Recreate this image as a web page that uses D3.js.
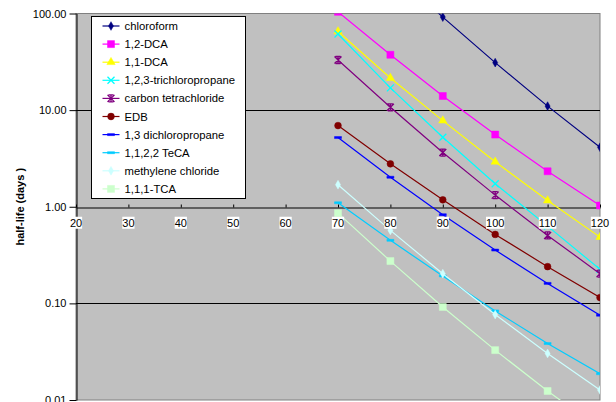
<!DOCTYPE html>
<html>
<head>
<meta charset="utf-8">
<script src="https://cdn.jsdelivr.net/npm/d3@7/dist/d3.min.js"></script>
<style>
  body { margin: 0; background: #fff; }
  text { font-family: Arial, "Liberation Sans", sans-serif; }
</style>
</head>
<body>
<div id="plot-container"></div>
<script>
// data (x = temperature, y = half-life in days)
var temps = [70, 80, 90, 100, 110, 120];
var names = ["chloroform", "1,2-DCA", "1,1-DCA", "1,2,3-trichloropropane", "carbon tetrachloride",
             "EDB", "1,3 dichloropropane", "1,1,2,2 TeCA", "methylene chloride", "1,1,1-TCA"];
var chloroform = [925, 285, 91.8, 31.0, 11.0, 4.13];
var dca12      = [104, 37.4, 14.0, 5.58, 2.33, 1.03];
var dca11      = [65.2, 21.5, 7.79, 2.92, 1.16, 0.485];
var tcp123     = [61.3, 17.0, 5.24, 1.73, 0.63, 0.225];
var carbonTet  = [33.0, 10.7, 3.64, 1.32, 0.505, 0.203];
var edb        = [6.92, 2.78, 1.18, 0.517, 0.240, 0.115];
var dcp13      = [5.2, 2.02, 0.827, 0.356, 0.161, 0.0754];
var teca1122   = [1.10, 0.449, 0.192, 0.0835, 0.0384, 0.0187];
var methylene  = [1.69, 0.569, 0.203, 0.0766, 0.0303, 0.0127];
var tca111     = [0.859, 0.274, 0.0918, 0.0328, 0.0124, 0.005];
var allSeries = [chloroform, dca12, dca11, tcp123, carbonTet, edb, dcp13, teca1122, methylene, tca111];

var xTicks = [20, 30, 40, 50, 60, 70, 80, 90, 100, 110, 120];
var yTicks = [0.01, 0.1, 1, 10, 100];

// styles
var colors  = ["#000080", "#ff00ff", "#ffff00", "#00ffff", "#800080", "#800000", "#0000ff", "#00ccff", "#ccffff", "#ccffcc"];
var markers = ["diamond", "square", "triangle", "x", "star", "circle", "dash", "dash", "diamond", "square"];

var width = 616, height = 402;
var plotLeft = 76, plotRight = 600, plotTop = 13.5, plotBottom = 400;

var xScale = d3.scaleLinear().domain([20, 120]).range([plotLeft, plotRight]);
var yScale = d3.scaleLog().domain([0.01, 100]).range([plotBottom, plotTop]);

var svg = d3.select("#plot-container")
            .append("svg")
            .attr("width", width)
            .attr("height", height);

// plot area
svg.append("rect")
   .attr("x", plotLeft).attr("y", plotTop)
   .attr("width", plotRight - plotLeft).attr("height", plotBottom - plotTop)
   .attr("fill", "#c0c0c0")
   .attr("stroke", "#808080")
   .attr("stroke-width", 1);

svg.append("clipPath").attr("id", "plotclip")
   .append("rect")
   .attr("x", plotLeft).attr("y", plotTop)
   .attr("width", plotRight - plotLeft).attr("height", plotBottom - plotTop);

// gridlines
svg.append("g")
   .selectAll("line")
   .data([0.1, 10])
   .enter()
   .append("line")
   .attr("x1", plotLeft).attr("x2", plotRight)
   .attr("y1", function(d){ return Math.round(yScale(d)) + 0.5; })
   .attr("y2", function(d){ return Math.round(yScale(d)) + 0.5; })
   .attr("stroke", "#000")
   .attr("stroke-width", 1);

// y axis
var yAxis = svg.append("g")
   .attr("transform", "translate(" + (plotLeft + 0.5) + ",0)")
   .call(d3.axisLeft(yScale).tickValues(yTicks).tickFormat(d3.format(".2f")).tickSizeOuter(0).tickSizeInner(7).tickPadding(3));
yAxis.select(".domain").attr("stroke", "#000");
yAxis.selectAll("text").attr("font-size", "11px").attr("fill", "#000")
     .attr("font-family", "Arial, 'Liberation Sans', sans-serif");

// x axis crossing at 1.00
var xAxis = svg.append("g")
   .attr("transform", "translate(0," + (Math.round(yScale(1)) + 0.5) + ")")
   .call(d3.axisBottom(xScale).tickValues(xTicks).tickSizeOuter(0).tickSizeInner(-3).tickFormat(""));
xAxis.select(".domain").attr("stroke", "#000");

// series
var line = d3.line()
   .x(function(d){ return xScale(d[0]); })
   .y(function(d){ return yScale(d[1]); });

var plot = svg.append("g").attr("clip-path", "url(#plotclip)");

function markerPath(type) {
  if (type === "diamond") return d3.symbol().type(d3.symbolDiamond).size(22)();
  if (type === "square") return "M-3.5,-3.5h7v7h-7z";
  if (type === "triangle") return d3.symbol().type(d3.symbolTriangle).size(30)();
  if (type === "circle") return d3.symbol().type(d3.symbolCircle).size(36)();
  if (type === "x") return "M-3.5,-3.5L3.5,3.5M-3.5,3.5L3.5,-3.5";
  if (type === "star") return "M-3.5,-3.5L3.5,3.5M-3.5,3.5L3.5,-3.5M0,-3.5V3.5M-2.5,-3.5H2.5M-2.5,3.5H2.5";
  if (type === "dash") return "M-3.5,-1h7v2h-7z";
}

allSeries.forEach(function(vals, i) {
  var pts = temps.map(function(t, j){ return [t, vals[j]]; });
  plot.append("path")
      .datum(pts)
      .attr("d", line)
      .attr("fill", "none")
      .attr("stroke", colors[i])
      .attr("stroke-width", 1.2);
  plot.selectAll(".m" + i)
      .data(pts)
      .enter()
      .append("path")
      .attr("class", "m" + i)
      .attr("transform", function(d){ return "translate(" + xScale(d[0]) + "," + yScale(d[1]) + ")"; })
      .attr("d", markerPath(markers[i]))
      .attr("fill", colors[i])
      .attr("stroke", colors[i])
      .attr("stroke-width", (markers[i] === "x" || markers[i] === "star") ? 1.3 : 0.5);
});

// x tick labels with white boxes
var xl = svg.append("g")
   .selectAll("g")
   .data(xTicks)
   .enter()
   .append("g")
   .attr("transform", function(d){ return "translate(" + xScale(d) + "," + (yScale(1) + 16) + ")"; });
xl.append("text")
  .attr("text-anchor", "middle")
  .attr("y", 4)
  .attr("font-size", "11px")
  .text(function(d){ return d; });
xl.each(function() {
  var g = d3.select(this);
  var b = g.select("text").node().getBBox();
  g.insert("rect", "text")
   .attr("x", b.x).attr("y", b.y)
   .attr("width", b.width).attr("height", b.height)
   .attr("fill", "#fff");
});

// y axis title
svg.append("text")
   .attr("transform", "translate(24," + yScale(1) + ") rotate(-90)")
   .attr("text-anchor", "middle")
   .attr("font-size", "11px")
   .attr("font-weight", "bold")
   .text("half-life (days )");

// legend
var legend = svg.append("g").attr("transform", "translate(91.5,16.5)");
legend.append("rect")
   .attr("width", 154).attr("height", 182)
   .attr("fill", "#fff")
   .attr("stroke", "#000")
   .attr("stroke-width", 1);

var rows = legend.selectAll(".row")
   .data(names)
   .enter()
   .append("g")
   .attr("class", "row")
   .attr("transform", function(d, i){ return "translate(0," + (9.5 + i * 18.1) + ")"; });

rows.append("line")
    .attr("x1", 11).attr("x2", 28)
    .attr("stroke", function(d, i){ return colors[i]; })
    .attr("stroke-width", 1.2);
rows.append("path")
    .attr("transform", "translate(19.5,0)")
    .attr("d", function(d, i){ return markerPath(markers[i]); })
    .attr("fill", function(d, i){ return colors[i]; })
    .attr("stroke", function(d, i){ return colors[i]; })
    .attr("stroke-width", function(d, i){ return (markers[i] === "x" || markers[i] === "star") ? 1.3 : 0.5; });
rows.append("text")
    .attr("x", 33)
    .attr("y", 4)
    .attr("font-size", "11.3px")
    .text(function(d){ return d; });
</script>
</body>
</html>
